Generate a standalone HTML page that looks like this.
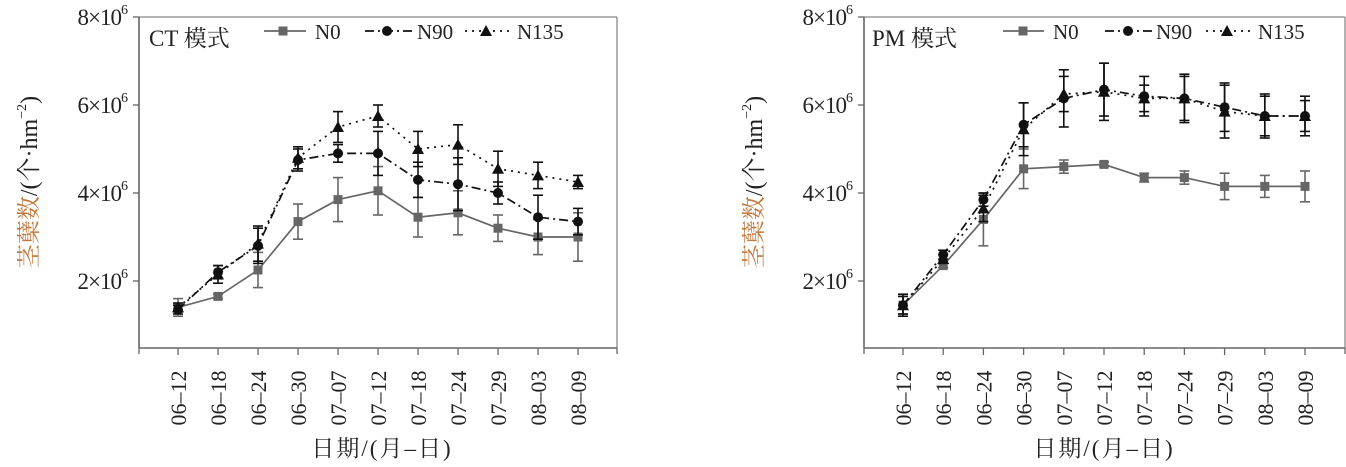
<!DOCTYPE html>
<html><head><meta charset="utf-8"><style>
html,body{margin:0;padding:0;background:#fff;}
svg{display:block;font-family:"Liberation Serif","Noto Serif CJK SC",serif;}
</style></head><body>
<svg id="s" width="1346" height="467" xmlns="http://www.w3.org/2000/svg"></svg>
<script>
const S=document.getElementById('s');let h='';
function chart(o){
 const ax=o.ax, right=o.right, top=17, bot=348;
 const Y=v=>17+(8-v)*44;
 const X=i=>o.x0+i*o.dx;
 h+=`<line x1="${ax}" y1="${top}" x2="${right}" y2="${top}" stroke="#888" stroke-width="1.3"/>`;
 h+=`<line x1="${right}" y1="${top}" x2="${right}" y2="${bot}" stroke="#888" stroke-width="1.3"/>`;
 h+=`<line x1="${ax}" y1="${top}" x2="${ax}" y2="${bot}" stroke="#666" stroke-width="1.6"/>`;
 h+=`<line x1="${ax}" y1="${bot}" x2="${right}" y2="${bot}" stroke="#666" stroke-width="1.6"/>`;
 h+=`<line x1="${ax}" y1="${bot}" x2="${ax}" y2="${bot+6}" stroke="#666" stroke-width="1.3"/>`;
 h+=`<line x1="${right}" y1="${bot}" x2="${right}" y2="${bot+6}" stroke="#666" stroke-width="1.3"/>`;
 [2,4,6,8].forEach(v=>{const y=Y(v);
  h+=`<line x1="${ax-6}" y1="${y}" x2="${ax}" y2="${y}" stroke="#666" stroke-width="1.3"/>`;
  h+=`<text x="${ax-12}" y="${y+8}" font-size="23" text-anchor="end" fill="#222" letter-spacing="-1">${v}×10<tspan font-size="14" dy="-11">6</tspan></text>`;});
 const labs=['06–12','06–18','06–24','06–30','07–07','07–12','07–18','07–24','07–29','08–03','08–09'];
 labs.forEach((l,i)=>{const x=X(i);
  h+=`<line x1="${x}" y1="${bot}" x2="${x}" y2="${bot+7}" stroke="#666" stroke-width="1.3"/>`;
  h+=`<text transform="translate(${x+8},${bot+50}) rotate(-90)" font-size="22" text-anchor="middle" fill="#222">${l}</text>`;});
 h+=`<text x="${o.xl}" y="456" font-size="23" text-anchor="middle" fill="#222" letter-spacing="2">日期/(月–日)</text>`;
 h+=`<text transform="translate(${o.yl},182) rotate(-90)" font-size="24" text-anchor="middle" fill="#222"><tspan fill="#c0783c">茎蘖数</tspan>/(个·hm<tspan font-size="14" dy="-11">−2</tspan><tspan dy="11">)</tspan></text>`;
 h+=`<text x="${o.tx}" y="46" font-size="23" fill="#222">${o.title}</text>`;
 const st=[{c:'#666',d:'',m:'sq'},{c:'#111',d:'9,4,2,4',m:'ci'},{c:'#111',d:'2,5',m:'tr'}];
 function mk(m,x,y,c){
  if(m=='sq')return `<rect x="${x-4.5}" y="${y-4.5}" width="9" height="9" fill="${c}"/>`;
  if(m=='ci')return `<circle cx="${x}" cy="${y}" r="5" fill="${c}"/>`;
  return `<polygon points="${x},${y-6} ${x-6},${y+5} ${x+6},${y+5}" fill="${c}"/>`;}
 o.series.forEach((s,k)=>{const t=st[k];
  let p=s.v.map((v,i)=>`${X(i)},${Y(v)}`).join(' ');
  h+=`<polyline points="${p}" fill="none" stroke="${t.c}" stroke-width="1.7" ${t.d?`stroke-dasharray="${t.d}"`:''}/>`;
  s.v.forEach((v,i)=>{const x=X(i),e=s.e[i]*44,y=Y(v);
   h+=`<line x1="${x}" y1="${y-e}" x2="${x}" y2="${y+e}" stroke="${t.c}" stroke-width="1.6"/>`;
   h+=`<line x1="${x-5}" y1="${y-e}" x2="${x+5}" y2="${y-e}" stroke="${t.c}" stroke-width="1.6"/>`;
   h+=`<line x1="${x-5}" y1="${y+e}" x2="${x+5}" y2="${y+e}" stroke="${t.c}" stroke-width="1.6"/>`;
   h+=mk(t.m,x,y,t.c);});
  const L=o.leg[k];
  h+=`<line x1="${L[0]}" y1="31" x2="${L[1]}" y2="31" stroke="${t.c}" stroke-width="1.7" ${t.d?`stroke-dasharray="${t.d}"`:''}/>`;
  h+=mk(t.m,L[2],31,t.c);
  h+=`<text x="${L[3]}" y="39" font-size="21" fill="#222">${['N0','N90','N135'][k]}</text>`;});
}
chart({ax:139,right:617,x0:178,dx:40,xl:382,yl:37,tx:149,title:'CT 模式',
 leg:[[264,306,283,315],[365,413,387,417],[465,513,486,517]],
 series:[
 {v:[1.4,1.65,2.25,3.35,3.85,4.05,3.45,3.55,3.2,3.0,3.0],e:[0.2,0.05,0.4,0.4,0.5,0.55,0.45,0.5,0.3,0.4,0.55]},
 {v:[1.35,2.2,2.8,4.75,4.9,4.9,4.3,4.2,4.0,3.45,3.35],e:[0.1,0.15,0.4,0.25,0.2,0.5,0.4,0.6,0.25,0.5,0.3]},
 {v:[1.4,2.15,2.85,4.8,5.5,5.75,5.0,5.1,4.55,4.4,4.25],e:[0.1,0.2,0.4,0.25,0.35,0.25,0.4,0.45,0.4,0.3,0.15]}]});
chart({ax:864,right:1345,x0:903,dx:40.2,xl:1104,yl:762,tx:872,title:'PM 模式',
 leg:[[1003,1044,1023,1053],[1105,1154,1128,1156],[1206,1254,1227,1258]],
 series:[
 {v:[1.45,2.35,3.4,4.55,4.6,4.65,4.35,4.35,4.15,4.15,4.15],e:[0.2,0.05,0.6,0.45,0.15,0.05,0.1,0.15,0.3,0.25,0.35]},
 {v:[1.45,2.6,3.85,5.55,6.15,6.35,6.2,6.15,5.95,5.75,5.75],e:[0.25,0.1,0.15,0.5,0.65,0.6,0.45,0.55,0.55,0.5,0.45]},
 {v:[1.45,2.5,3.65,5.45,6.25,6.3,6.15,6.15,5.85,5.75,5.75],e:[0.2,0.1,0.3,0.6,0.4,0.65,0.3,0.5,0.6,0.45,0.35]}]});
S.innerHTML=h;
</script>
</body></html>
